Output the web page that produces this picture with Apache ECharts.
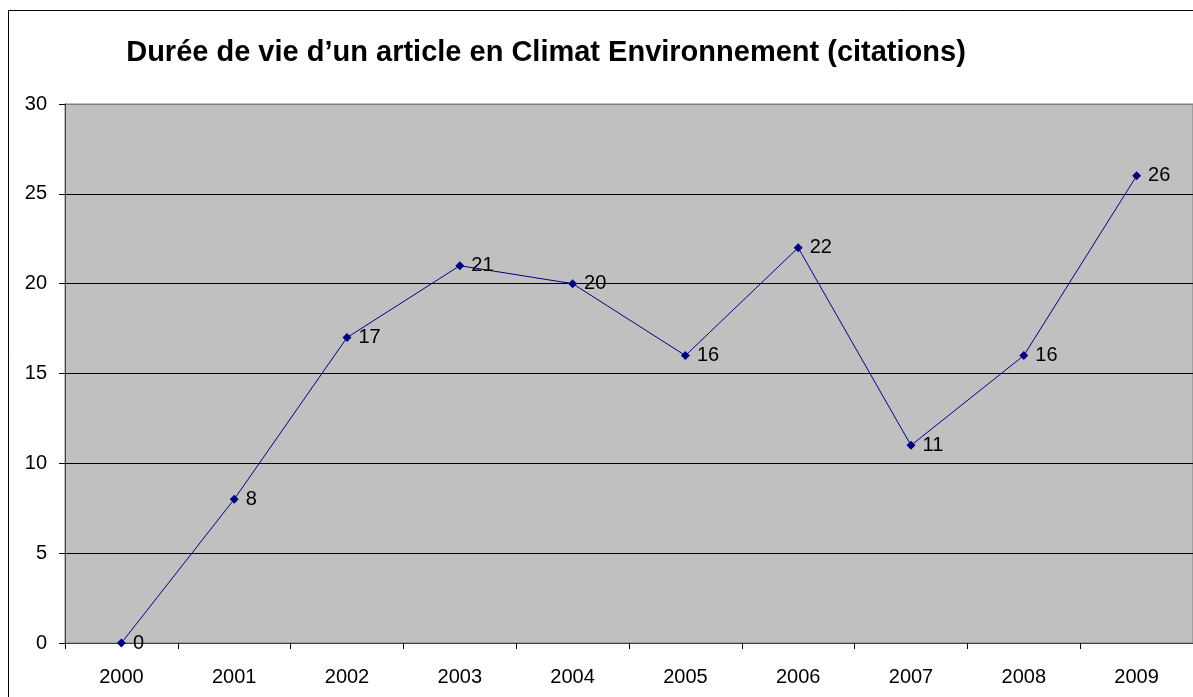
<!DOCTYPE html>
<html>
<head>
<meta charset="utf-8">
<style>
  html, body { margin: 0; padding: 0; background: #fff; }
  #chart { width: 1193px; height: 697px; }
</style>
<script src="https://cdn.jsdelivr.net/npm/echarts@6/dist/echarts.min.js"></script>
</head>
<body>
<div id="chart"></div>
<script>
const years = ['2000', '2001', '2002', '2003', '2004', '2005', '2006', '2007', '2008', '2009']
const citations = [0, 8, 17, 21, 20, 16, 22, 11, 16, 26]
const titleText = 'Durée de vie d’un article en Climat Environnement (citations)'

const chart = echarts.init(document.getElementById('chart'))
const font = 'Liberation Sans, Arial, sans-serif'

chart.setOption({
  backgroundColor: '#fff',
  animation: false,
  title: {
    text: titleText,
    left: 541, top: 33, textAlign: 'center',
    textStyle: { fontFamily: font, fontSize: 29, fontWeight: 'bold', color: '#000' }
  },
  // cadre extérieur du graphique (coupé à droite et en bas)
  graphic: [{
    type: 'rect',
    shape: { x: 8.5, y: 10.5, width: 1300, height: 800 },
    style: { fill: 'none', stroke: '#000', lineWidth: 1 },
    silent: true, z: -1
  }],
  grid: {
    left: 65, top: 104, width: 1129, height: 539,
    show: true, backgroundColor: '#c0c0c0', borderColor: '#808080', borderWidth: 1
  },
  xAxis: {
    type: 'category',
    data: years,
    boundaryGap: true,
    axisLine: { lineStyle: { color: '#404040', width: 1 } },
    axisTick: { show: true, length: 6, lineStyle: { color: '#000' } },
    axisLabel: { fontFamily: font, fontSize: 20, color: '#000', margin: 24 }
  },
  yAxis: {
    type: 'value',
    min: 0, max: 30, interval: 5,
    axisLine: { show: true, lineStyle: { color: '#404040' } },
    axisTick: { show: true, length: 6, lineStyle: { color: '#000' } },
    axisLabel: { fontFamily: font, fontSize: 20, color: '#000', margin: 18 },
    splitLine: { show: true, lineStyle: { color: ['#404040', '#000', '#000', '#000', '#000', '#000', '#808080'], width: 1 } }
  },
  series: [{
    type: 'line',
    data: citations,
    symbol: 'diamond',
    symbolSize: 9,
    lineStyle: { color: '#000080', width: 1 },
    itemStyle: { color: '#000080' },
    label: {
      show: true, position: 'right', distance: 7,
      fontFamily: font, fontSize: 20, color: '#000'
    }
  }]
})
</script>
</body>
</html>
